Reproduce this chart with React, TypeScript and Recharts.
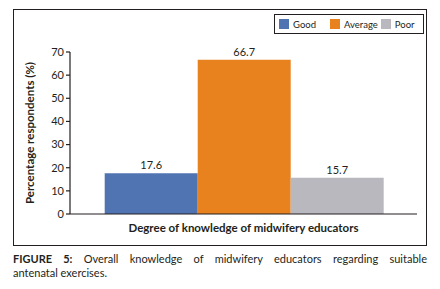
import { BarChart, Bar, XAxis, YAxis, Legend, LabelList } from "recharts";

const categories = ["Degree of knowledge of midwifery educators"];
const seriesNames = ["Good", "Average", "Poor"];
const goodValues = [17.6];
const averageValues = [66.7];
const poorValues = [15.7];
const yTicks = [0, 10, 20, 30, 40, 50, 60, 70];

const COLORS = ["#5073B2", "#E8821F", "#B9B8BE"];
const FONT = "Lato, 'Open Sans', sans-serif";
const TEXT = "#231f20";

const data = categories.map((name, i) => ({
  name,
  Good: goodValues[i],
  Average: averageValues[i],
  Poor: poorValues[i],
}));

function LegendBox() {
  return (
    <div
      style={{
        display: "flex",
        alignItems: "center",
        height: 20,
        border: "1.3px solid #231f20",
        paddingLeft: 4,
        boxSizing: "border-box",
        fontFamily: FONT,
        fontSize: 9.5,
        color: TEXT,
      }}
    >
      {seriesNames.map((s, i) => (
        <div key={s} style={{ display: "flex", alignItems: "center", marginRight: i === 0 ? 14 : 3 }}>
          <div style={{ width: 10, height: 10, background: COLORS[i], marginRight: 4 }} />
          <span>{s}</span>
        </div>
      ))}
    </div>
  );
}

export default function App() {
  return (
    <div style={{ position: "absolute", left: 0, top: 0, width: 440, height: 289, background: "#fff", fontFamily: FONT }}>
      <div
        style={{
          position: "absolute",
          left: 13,
          top: 9,
          width: 412,
          height: 235,
          border: "1.3px solid #231f20",
        }}
      />
      <div style={{ position: "absolute", left: 0, top: 0 }}>
        <BarChart
          width={440}
          height={246}
          data={data}
          margin={{ top: 32, right: 23, bottom: 0, left: 0 }}
          barCategoryGap="10%"
          barGap={0}
        >
          <XAxis
            dataKey="name"
            tick={false}
            height={32}
            axisLine={{ stroke: TEXT, strokeWidth: 1.2 }}
            tickLine={false}
            label={{
              value: categories[0],
              position: "insideTop",
              offset: 10,
              style: { fontFamily: FONT, fontSize: 11.5, fontWeight: 700, fill: TEXT },
            }}
          />
          <YAxis
            width={70}
            domain={[0, 70]}
            ticks={yTicks}
            interval={0}
            tickSize={4}
            axisLine={{ stroke: TEXT, strokeWidth: 1.2 }}
            tickLine={{ stroke: TEXT, strokeWidth: 1.2 }}
            tick={{ fontFamily: FONT, fontSize: 11, fill: TEXT }}
            label={{
              value: "Percentage respondents (%)",
              angle: -90,
              position: "center",
              dx: -5,
              style: { fontFamily: FONT, fontSize: 11.5, fontWeight: 700, fill: TEXT, textAnchor: "middle" },
            }}
          />
          <Legend
            verticalAlign="top"
            content={<LegendBox />}
            wrapperStyle={{ position: "absolute", top: 14, left: 274, width: 150, height: 20 }}
          />
          {seriesNames.map((s, i) => (
            <Bar key={s} dataKey={s} fill={COLORS[i]} isAnimationActive={false}>
              <LabelList
                dataKey={s}
                position="top"
                offset={4}
                style={{ fontFamily: FONT, fontSize: 11, fill: TEXT }}
              />
            </Bar>
          ))}
        </BarChart>
      </div>
      <div
        style={{
          position: "absolute",
          left: 13,
          top: 252,
          width: 414,
          fontSize: 11,
          lineHeight: "14px",
          color: TEXT,
        }}
      >
        <div style={{ textAlign: "justify", textAlignLast: "justify" }}>
          <b>FIGURE 5:</b> Overall knowledge of midwifery educators regarding suitable
        </div>
        <div>antenatal exercises.</div>
      </div>
    </div>
  );
}
